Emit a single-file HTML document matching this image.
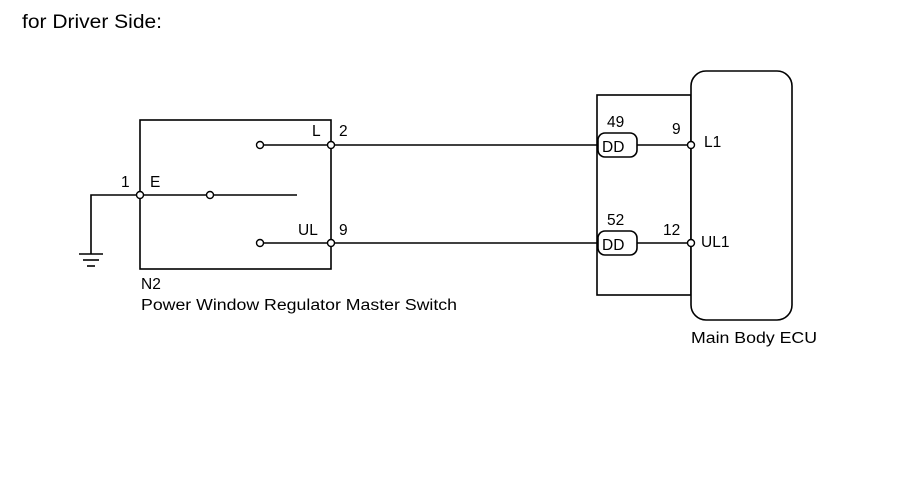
<!DOCTYPE html>
<html><head><style>body{margin:0;background:#fff}</style></head><body>
<svg width="906" height="483" xmlns="http://www.w3.org/2000/svg" font-family="Liberation Sans, sans-serif" font-size="15.5" fill="#000">
<text x="22" y="28" font-size="19" textLength="140" lengthAdjust="spacingAndGlyphs">for Driver Side:</text>
<g stroke="#000" stroke-width="1.6" fill="none">
<rect x="140" y="120" width="191" height="149"/>
<line x1="260" y1="145" x2="598" y2="145"/>
<line x1="260" y1="243" x2="598" y2="243"/>
<line x1="140" y1="195" x2="297" y2="195"/>
<polyline points="140,195 91,195 91,254"/>
<line x1="79" y1="254" x2="103" y2="254"/>
<line x1="83" y1="260" x2="99" y2="260"/>
<line x1="87" y1="266" x2="95" y2="266"/>
<rect x="597" y="95" width="94" height="200"/>
<rect x="691" y="71" width="101" height="249" rx="15" fill="#fff"/>
<rect x="598" y="133" width="39" height="24" rx="7" fill="#fff"/>
<rect x="598" y="231" width="39" height="24" rx="7" fill="#fff"/>
<line x1="637" y1="145" x2="691" y2="145"/>
<line x1="637" y1="243" x2="691" y2="243"/>
</g>
<g stroke="#000" stroke-width="1.4" fill="#fff">
<circle cx="260" cy="145" r="3.5"/><circle cx="331" cy="145" r="3.5"/>
<circle cx="260" cy="243" r="3.5"/><circle cx="331" cy="243" r="3.5"/>
<circle cx="140" cy="195" r="3.5"/><circle cx="210" cy="195" r="3.5"/>
<circle cx="691" cy="145" r="3.5"/><circle cx="691" cy="243" r="3.5"/>
</g>
<text x="312" y="136">L</text><text x="339" y="136">2</text>
<text x="121" y="187">1</text><text x="150" y="187">E</text>
<text x="298" y="235">UL</text><text x="339" y="235">9</text>
<text x="141" y="289">N2</text>
<text x="141" y="310" textLength="316" lengthAdjust="spacingAndGlyphs">Power Window Regulator Master Switch</text>
<text x="607" y="127">49</text><text x="602" y="152">DD</text>
<text x="607" y="225">52</text><text x="602" y="250">DD</text>
<text x="672" y="134">9</text><text x="663" y="235">12</text>
<text x="704" y="147">L1</text><text x="701" y="247">UL1</text>
<text x="691" y="343" textLength="126" lengthAdjust="spacingAndGlyphs">Main Body ECU</text>
</svg>
</body></html>
